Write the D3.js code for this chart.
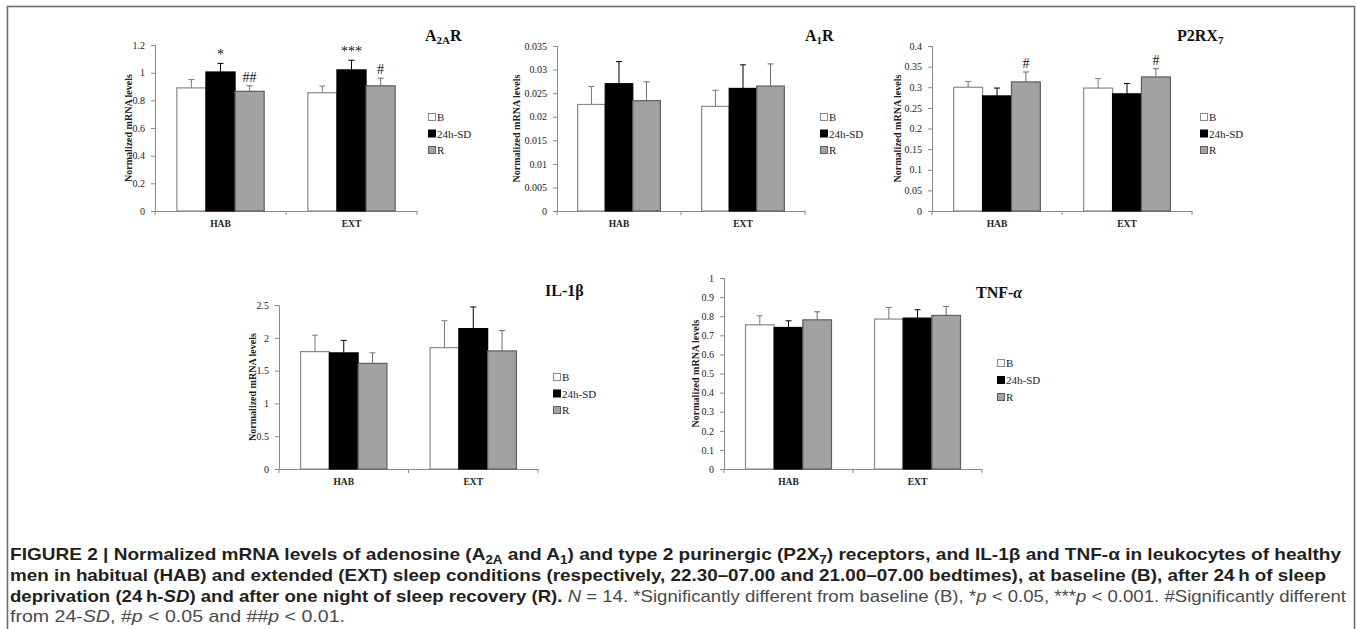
<!DOCTYPE html>
<html>
<head>
<meta charset="utf-8">
<script src="https://cdn.jsdelivr.net/npm/d3@7"></script>
<style>
  body { margin: 0; background: #fff; }
  svg { display: block; }
</style>
</head>
<body>
<script>
const W = 1357, H = 629;

const groups = ["HAB", "EXT"];
const conditions = ["B", "24h-SD", "R"];

// values per group: [B, 24h-SD, R]
const a2aMeans = [[0.89, 1.005, 0.865], [0.855, 1.02, 0.905]];
const a2aErrors = [[0.06, 0.062, 0.04], [0.048, 0.07, 0.055]];
const a2aMarks = [["", "*", "##"], ["", "***", "#"]];
const a2aTicks = [0, 0.2, 0.4, 0.6, 0.8, 1, 1.2];

const a1Means = [[0.0226, 0.0270, 0.0234], [0.0222, 0.0260, 0.0265]];
const a1Errors = [[0.0038, 0.0047, 0.0040], [0.0034, 0.0050, 0.0047]];
const a1Marks = [["", "", ""], ["", "", ""]];
const a1Ticks = [0, 0.005, 0.01, 0.015, 0.02, 0.025, 0.03, 0.035];

const p2x7Means = [[0.300, 0.279, 0.313], [0.298, 0.284, 0.325]];
const p2x7Errors = [[0.014, 0.019, 0.024], [0.023, 0.025, 0.020]];
const p2x7Marks = [["", "", "#"], ["", "", "#"]];
const p2x7Ticks = [0, 0.05, 0.1, 0.15, 0.2, 0.25, 0.3, 0.35, 0.4];

const il1bMeans = [[1.79, 1.77, 1.61], [1.85, 2.14, 1.80]];
const il1bErrors = [[0.25, 0.19, 0.16], [0.41, 0.33, 0.31]];
const il1bMarks = [["", "", ""], ["", "", ""]];
const il1bTicks = [0, 0.5, 1, 1.5, 2, 2.5];

const tnfMeans = [[0.755, 0.741, 0.781], [0.785, 0.790, 0.804]];
const tnfErrors = [[0.047, 0.035, 0.042], [0.061, 0.044, 0.047]];
const tnfMarks = [["", "", ""], ["", "", ""]];
const tnfTicks = [0, 0.1, 0.2, 0.3, 0.4, 0.5, 0.6, 0.7, 0.8, 0.9, 1];

const fillColor = { "B": "#ffffff", "24h-SD": "#000000", "R": "#a2a2a2" };
const strokeColor = { "B": "#8a8a8a", "24h-SD": "#000000", "R": "#5e5e5e" };
const errColor = { "B": "#7a7a7a", "24h-SD": "#000000", "R": "#6a6a6a" };

const serif = "'Liberation Serif', 'Times New Roman', serif";
const sans = "'Liberation Sans Narrow', 'Liberation Sans', Arial, sans-serif";

const svg = d3.select("body").append("svg")
    .attr("width", W)
    .attr("height", H);

// outer frame
svg.append("rect")
    .attr("x", 7.5).attr("y", 6.5)
    .attr("width", 1347).attr("height", 650)
    .attr("fill", "none")
    .attr("stroke", "#6e6e6e")
    .attr("stroke-width", 1.6);

const panels = [
    { title: [["A", 0], ["2A", 1], ["R", 0]], means: a2aMeans, errors: a2aErrors, marks: a2aMarks, ticks: a2aTicks,
      left: 155, right: 417, top: 45, bottom: 211, labelX: 128, titleX: 425, titleY: 41, legendX: 428, legendY: 117, legendStep: 16.5 },
    { title: [["A", 0], ["1", 1], ["R", 0]], means: a1Means, errors: a1Errors, marks: a1Marks, ticks: a1Ticks,
      left: 557, right: 805, top: 46, bottom: 211, labelX: 516, titleX: 805, titleY: 41, legendX: 820, legendY: 117, legendStep: 16.5 },
    { title: [["P2RX", 0], ["7", 1]], means: p2x7Means, errors: p2x7Errors, marks: p2x7Marks, ticks: p2x7Ticks,
      left: 932, right: 1192, top: 46, bottom: 211, labelX: 897, titleX: 1177, titleY: 41, legendX: 1200, legendY: 117, legendStep: 16.5 },
    { title: [["IL-1β", 0]], means: il1bMeans, errors: il1bErrors, marks: il1bMarks, ticks: il1bTicks,
      left: 279, right: 538, top: 305, bottom: 469, labelX: 252, titleX: 545, titleY: 296, legendX: 553, legendY: 377, legendStep: 16.5 },
    { title: [["TNF-", 0], ["α", 2]], means: tnfMeans, errors: tnfErrors, marks: tnfMarks, ticks: tnfTicks,
      left: 724, right: 982, top: 278, bottom: 469, labelX: 695, titleX: 976, titleY: 298, legendX: 997, legendY: 363, legendStep: 17 }
];

function drawPanel(p) {
    const g = svg.append("g");

    const x0 = d3.scaleBand()
        .domain(groups)
        .range([p.left, p.right])
        .padding(0);
    // Excel-like gap width of 150%
    const x1 = d3.scaleBand()
        .domain(conditions)
        .range([0, x0.bandwidth()])
        .paddingInner(0)
        .paddingOuter(0.75);
    const y = d3.scaleLinear()
        .domain([0, d3.max(p.ticks)])
        .range([p.bottom, p.top]);

    const rows = [];
    groups.forEach((grp, gi) => {
        conditions.forEach((c, ci) => {
            rows.push({ grp: grp, cond: c, mean: p.means[gi][ci], err: p.errors[gi][ci], mark: p.marks[gi][ci] });
        });
    });

    // y axis
    const yAxis = d3.axisLeft(y)
        .tickValues(p.ticks)
        .tickSize(4)
        .tickPadding(6)
        .tickFormat(d => String(+d.toFixed(4)));
    const ya = g.append("g")
        .attr("transform", "translate(" + p.left + ",0)")
        .call(yAxis);
    ya.select(".domain").attr("stroke", "#8a8a8a");
    ya.selectAll(".tick line").attr("stroke", "#8a8a8a");
    ya.selectAll(".tick text")
        .attr("font-family", serif)
        .attr("font-size", 10)
        .attr("fill", "#222");

    // x axis with category boundary ticks
    const xa = g.append("g")
        .attr("transform", "translate(0," + p.bottom + ")")
        .call(d3.axisBottom(x0).tickSize(0).tickPadding(9));
    xa.select(".domain").attr("stroke", "#8a8a8a");
    xa.selectAll(".tick text")
        .attr("font-family", serif)
        .attr("font-weight", "bold")
        .attr("font-size", 9.5)
        .attr("fill", "#222");
    const bounds = groups.map(d => x0(d)).concat([x0.range()[1]]);
    xa.selectAll(".bound")
        .data(bounds)
        .join("line")
        .attr("class", "bound")
        .attr("x1", d => d).attr("x2", d => d)
        .attr("y1", 0).attr("y2", 4)
        .attr("stroke", "#8a8a8a");

    // bars
    g.selectAll(".bar")
        .data(rows)
        .join("rect")
        .attr("class", "bar")
        .attr("x", d => x0(d.grp) + x1(d.cond))
        .attr("width", x1.bandwidth())
        .attr("y", d => y(d.mean))
        .attr("height", d => y(0) - y(d.mean))
        .attr("fill", d => fillColor[d.cond])
        .attr("stroke", d => strokeColor[d.cond])
        .attr("stroke-width", 1.2);

    // upper error whiskers
    const cx = d => x0(d.grp) + x1(d.cond) + x1.bandwidth() / 2;
    g.selectAll(".err")
        .data(rows)
        .join("line")
        .attr("class", "err")
        .attr("x1", cx).attr("x2", cx)
        .attr("y1", d => y(d.mean))
        .attr("y2", d => y(d.mean + d.err))
        .attr("stroke", d => errColor[d.cond]);
    g.selectAll(".cap")
        .data(rows)
        .join("line")
        .attr("class", "cap")
        .attr("x1", d => cx(d) - 3).attr("x2", d => cx(d) + 3)
        .attr("y1", d => y(d.mean + d.err))
        .attr("y2", d => y(d.mean + d.err))
        .attr("stroke", d => errColor[d.cond]);

    // significance marks
    g.selectAll(".mark")
        .data(rows.filter(d => d.mark))
        .join("text")
        .attr("class", "mark")
        .attr("x", cx)
        .attr("y", d => y(d.mean + d.err) - 4)
        .attr("text-anchor", "middle")
        .attr("font-family", serif)
        .attr("font-size", 14)
        .attr("fill", "#111")
        .text(d => d.mark);

    // y label
    g.append("text")
        .attr("transform", "translate(" + p.labelX + "," + ((p.top + p.bottom) / 2) + ") rotate(-90)")
        .attr("text-anchor", "middle")
        .attr("dy", "0.35em")
        .attr("font-family", serif)
        .attr("font-weight", "bold")
        .attr("font-size", 10)
        .attr("fill", "#222")
        .text("Normalized mRNA levels");

    // title
    const t = g.append("text")
        .attr("x", p.titleX)
        .attr("y", p.titleY)
        .attr("font-family", serif)
        .attr("font-weight", "bold")
        .attr("font-size", 16)
        .attr("fill", "#111");
    let shifted = false;
    p.title.forEach(([s, kind]) => {
        const ts = t.append("tspan").text(s);
        if (kind === 1) {
            ts.attr("font-size", 11).attr("dy", 3);
            shifted = true;
        } else {
            if (shifted) { ts.attr("dy", -3); shifted = false; }
            if (kind === 2) ts.attr("font-style", "italic");
        }
    });

    // legend
    const lg = g.append("g")
        .attr("transform", "translate(" + p.legendX + "," + p.legendY + ")");
    const li = lg.selectAll("g")
        .data(conditions)
        .join("g")
        .attr("transform", (d, i) => "translate(0," + (i * p.legendStep) + ")");
    li.append("rect")
        .attr("x", 0.5).attr("y", -3.5)
        .attr("width", 7).attr("height", 7)
        .attr("fill", d => fillColor[d])
        .attr("stroke", d => strokeColor[d])
        .attr("stroke-width", 1);
    li.append("text")
        .attr("x", 9)
        .attr("dy", "0.38em")
        .attr("font-family", serif)
        .attr("font-size", 11)
        .attr("fill", "#222")
        .text(d => d);
}

panels.forEach(drawPanel);

// caption
const capLines = [
    { y: 560, len: 1331, parts: [
        ["FIGURE 2 | Normalized mRNA levels of adenosine (A", "b"], ["2A", "bs"], [" and A", "b"], ["1", "bs"],
        [") and type 2 purinergic (P2X", "b"], ["7", "bs"], [") receptors, and IL-1β and TNF-α in leukocytes of healthy", "b"]] },
    { y: 581, len: 1316, parts: [
        ["men in habitual (HAB) and extended (EXT) sleep conditions (respectively, 22.30–07.00 and 21.00–07.00 bedtimes), at baseline (B), after 24\u2009h of sleep", "b"]] },
    { y: 602, len: 1336, parts: [
        ["deprivation (24\u2009h-", "b"], ["SD", "bi"], [") and after one night of sleep recovery (R).", "b"],
        [" ", "r"], ["N", "ri"], [" = 14. *Significantly different from baseline (B), *", "r"], ["p", "ri"],
        [" < 0.05, ***", "r"], ["p", "ri"], [" < 0.001. #Significantly different", "r"]] },
    { y: 622, len: 335, parts: [
        ["from 24-", "r"], ["SD", "ri"], [", #", "r"], ["p", "ri"], [" < 0.05 and ##", "r"], ["p", "ri"], [" < 0.01.", "r"]] }
];

capLines.forEach(line => {
    const t = svg.append("text")
        .attr("x", 10)
        .attr("y", line.y)
        .attr("font-family", sans)
        .attr("font-size", 17)
        .attr("textLength", line.len)
        .attr("lengthAdjust", "spacingAndGlyphs");
    let sub = false;
    line.parts.forEach(([s, style]) => {
        const ts = t.append("tspan").text(s);
        const bold = style.includes("b");
        ts.attr("font-weight", bold ? "bold" : "normal")
          .attr("fill", bold ? "#231f20" : "#4a4a4a");
        if (style.includes("i")) ts.attr("font-style", "italic");
        if (style.includes("s")) {
            ts.attr("font-size", 12).attr("dy", 4);
            sub = true;
        } else if (sub) {
            ts.attr("dy", -4);
            sub = false;
        }
    });
});
</script>
</body>
</html>
